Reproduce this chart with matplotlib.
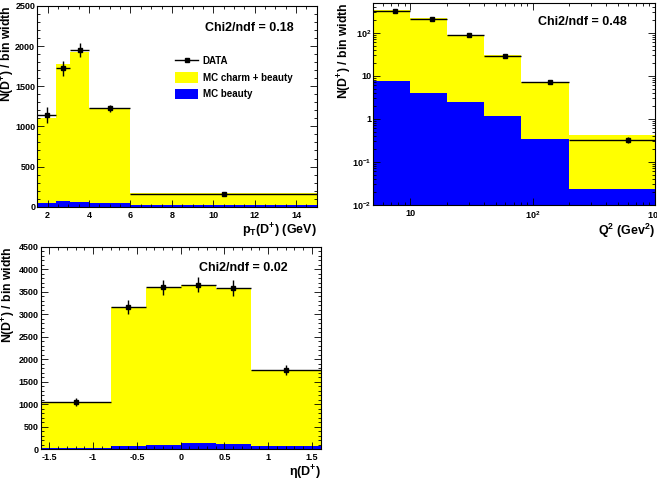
import numpy as np
import matplotlib
matplotlib.use("Agg")
import matplotlib.pyplot as plt
from matplotlib.ticker import MultipleLocator, AutoMinorLocator, LogLocator, FixedLocator, NullFormatter, FuncFormatter
from matplotlib.patches import Patch
from matplotlib.lines import Line2D

plt.rcParams['font.family'] = 'Liberation Sans'
plt.rcParams['font.weight'] = 'bold'
plt.rcParams['mathtext.fontset'] = 'custom'
plt.rcParams['mathtext.rm'] = 'Liberation Sans:bold'
plt.rcParams['mathtext.it'] = 'Liberation Sans:bold'
plt.rcParams['mathtext.bf'] = 'Liberation Sans:bold'
plt.rcParams['mathtext.default'] = 'rm'

YELLOW = '#ffff00'
BLUE = '#0000ff'

# pT(D+) distribution
pt_edges = [1.5, 2.4, 3.1, 4.0, 6.0, 15.0]
pt_mc_all = [1110, 1775, 1930, 1225, 170]
pt_mc_b = [42, 67, 55, 42, 17]
pt_data = [1142, 1723, 1951, 1225, 162]
pt_err = [100, 95, 83, 40, 10]
pt_chi2 = 0.18

# Q2 distribution
q2_edges = [5, 10, 20, 40, 80, 200, 1000]
q2_mc_all = [340, 221, 90, 30, 7.3, 0.42]
q2_mc_b = [7.5, 3.9, 2.4, 1.17, 0.34, 0.023]
q2_data = [320, 215, 88, 29, 7.2, 0.32]
q2_err = [12, 9, 5, 1.5, 0.4, 0.05]
q2_chi2 = 0.48

# eta(D+) distribution
eta_edges = [-1.6, -0.8, -0.4, 0.0, 0.4, 0.8, 1.6]
eta_mc_all = [1043, 3167, 3589, 3641, 3560, 1761]
eta_mc_b = [30, 81, 104, 140, 118, 67]
eta_data = [1043, 3167, 3600, 3660, 3580, 1761]
eta_err = [90, 155, 165, 175, 185, 110]
eta_chi2 = 0.02

YLABEL = 'N(D$^{+}$) / bin width'


def draw_panel(ax, edges, mc_all, mc_b, data, err, baseline=0.0):
    edges = np.asarray(edges, dtype=float)
    centers = 0.5 * (edges[1:] + edges[:-1])
    half = 0.5 * (edges[1:] - edges[:-1])
    ax.stairs(mc_all, edges, fill=True, color=YELLOW, baseline=baseline, lw=0)
    ax.stairs(mc_b, edges, fill=True, color=BLUE, baseline=baseline, lw=0)
    ax.errorbar(centers, data, xerr=half, yerr=err, fmt='s', color='black',
                ms=2.2, elinewidth=1.0, capsize=0, zorder=5)


def style_axes(ax):
    ax.tick_params(which='both', direction='in', top=True, right=True,
                   labelsize=6.5)
    ax.tick_params(axis='y', pad=1.5)
    ax.tick_params(axis='x', pad=3)
    ax.tick_params(which='major', length=5, width=0.6)
    ax.tick_params(which='minor', length=2.5, width=0.6)
    for s in ax.spines.values():
        s.set_linewidth(0.8)
    for lab in ax.get_xticklabels() + ax.get_yticklabels():
        lab.set_fontweight('bold')


def set_labels(ax, xlabel, ylab_x, ylab_y):
    ax.set_xlabel(xlabel, loc='right', fontsize=9, fontweight='bold', labelpad=1)
    ax.set_ylabel(YLABEL, loc='top', fontsize=8.8, fontweight='bold')
    # anchor is the right edge / top end of the rotated label
    ax.yaxis.set_label_coords(ylab_x, ylab_y)


def chi2_text(ax, x, y, val):
    ax.text(x, y, 'Chi2/ndf = %.2f' % val, transform=ax.transAxes,
            ha='center', va='center', fontsize=9, fontweight='bold')


fig = plt.figure(figsize=(6.57, 4.82), dpi=100)

# top left: pT
ax1 = fig.add_axes([0.0568, 0.5712, 0.4253, 0.4164])
draw_panel(ax1, pt_edges, pt_mc_all, pt_mc_b, pt_data, pt_err)
ax1.set_xlim(1.5, 15)
ax1.set_ylim(0, 2500)
ax1.xaxis.set_major_locator(MultipleLocator(2))
ax1.xaxis.set_minor_locator(AutoMinorLocator(4))
ax1.yaxis.set_major_locator(MultipleLocator(500))
ax1.yaxis.set_minor_locator(AutoMinorLocator(5))
set_labels(ax1, 'p$_{T}$(D$^{+}$) (GeV)', -0.074, 1.005)
style_axes(ax1)
chi2_text(ax1, 0.76, 0.89, pt_chi2)
handles = [
    Line2D([0], [0], color='black', marker='s', ms=2.2, lw=1.0),
    Patch(facecolor=YELLOW, edgecolor='none'),
    Patch(facecolor=BLUE, edgecolor='none'),
]
leg = ax1.legend(handles, ['DATA', 'MC charm + beauty', 'MC beauty'],
                 loc='upper left', bbox_to_anchor=(0.48, 0.77), frameon=False,
                 fontsize=7, handlelength=2.3, handleheight=1.25, labelspacing=0.6,
                 handletextpad=0.5, borderaxespad=0)
for t in leg.get_texts():
    t.set_fontweight('bold')

# top right: Q2
ax2 = fig.add_axes([0.5682, 0.5753, 0.4288, 0.419])
draw_panel(ax2, q2_edges, q2_mc_all, q2_mc_b, q2_data, q2_err, baseline=1e-3)
ax2.set_xscale('log')
ax2.set_yscale('log')
ax2.set_xlim(5, 1000)
ax2.set_ylim(1e-2, 500)


def log_fmt(v, pos):
    e = int(round(np.log10(v)))
    if e == 0:
        return '1'
    if e == 1:
        return '10'
    return '10$^{%d}$' % e


ax2.xaxis.set_major_locator(FixedLocator([10, 100, 1000]))
ax2.xaxis.set_major_formatter(FuncFormatter(log_fmt))
ax2.xaxis.set_minor_locator(LogLocator(base=10, subs=np.arange(2, 10)))
ax2.xaxis.set_minor_formatter(NullFormatter())
ax2.yaxis.set_major_locator(FixedLocator([1e-2, 1e-1, 1, 10, 100]))
ax2.yaxis.set_major_formatter(FuncFormatter(log_fmt))
ax2.yaxis.set_minor_locator(LogLocator(base=10, subs=np.arange(2, 10)))
ax2.yaxis.set_minor_formatter(NullFormatter())
set_labels(ax2, 'Q$^{2}$ (Gev$^{2}$)', -0.0685, 1.0)
style_axes(ax2)
chi2_text(ax2, 0.743, 0.906, q2_chi2)

# bottom left: eta
ax3 = fig.add_axes([0.0619, 0.0678, 0.4262, 0.4204])
draw_panel(ax3, eta_edges, eta_mc_all, eta_mc_b, eta_data, eta_err)
ax3.set_xlim(-1.6, 1.6)
ax3.set_ylim(0, 4500)
ax3.xaxis.set_major_locator(MultipleLocator(0.5))
ax3.xaxis.set_minor_locator(MultipleLocator(0.1))
ax3.xaxis.set_major_formatter(FuncFormatter(lambda v, p: '%g' % v if abs(v) > 1e-9 else '0'))
ax3.yaxis.set_major_locator(MultipleLocator(500))
ax3.yaxis.set_minor_locator(AutoMinorLocator(5))
set_labels(ax3, 'η(D$^{+}$)', -0.082, 1.0)
style_axes(ax3)
chi2_text(ax3, 0.724, 0.893, eta_chi2)

fig.savefig('out.png', dpi=100)
